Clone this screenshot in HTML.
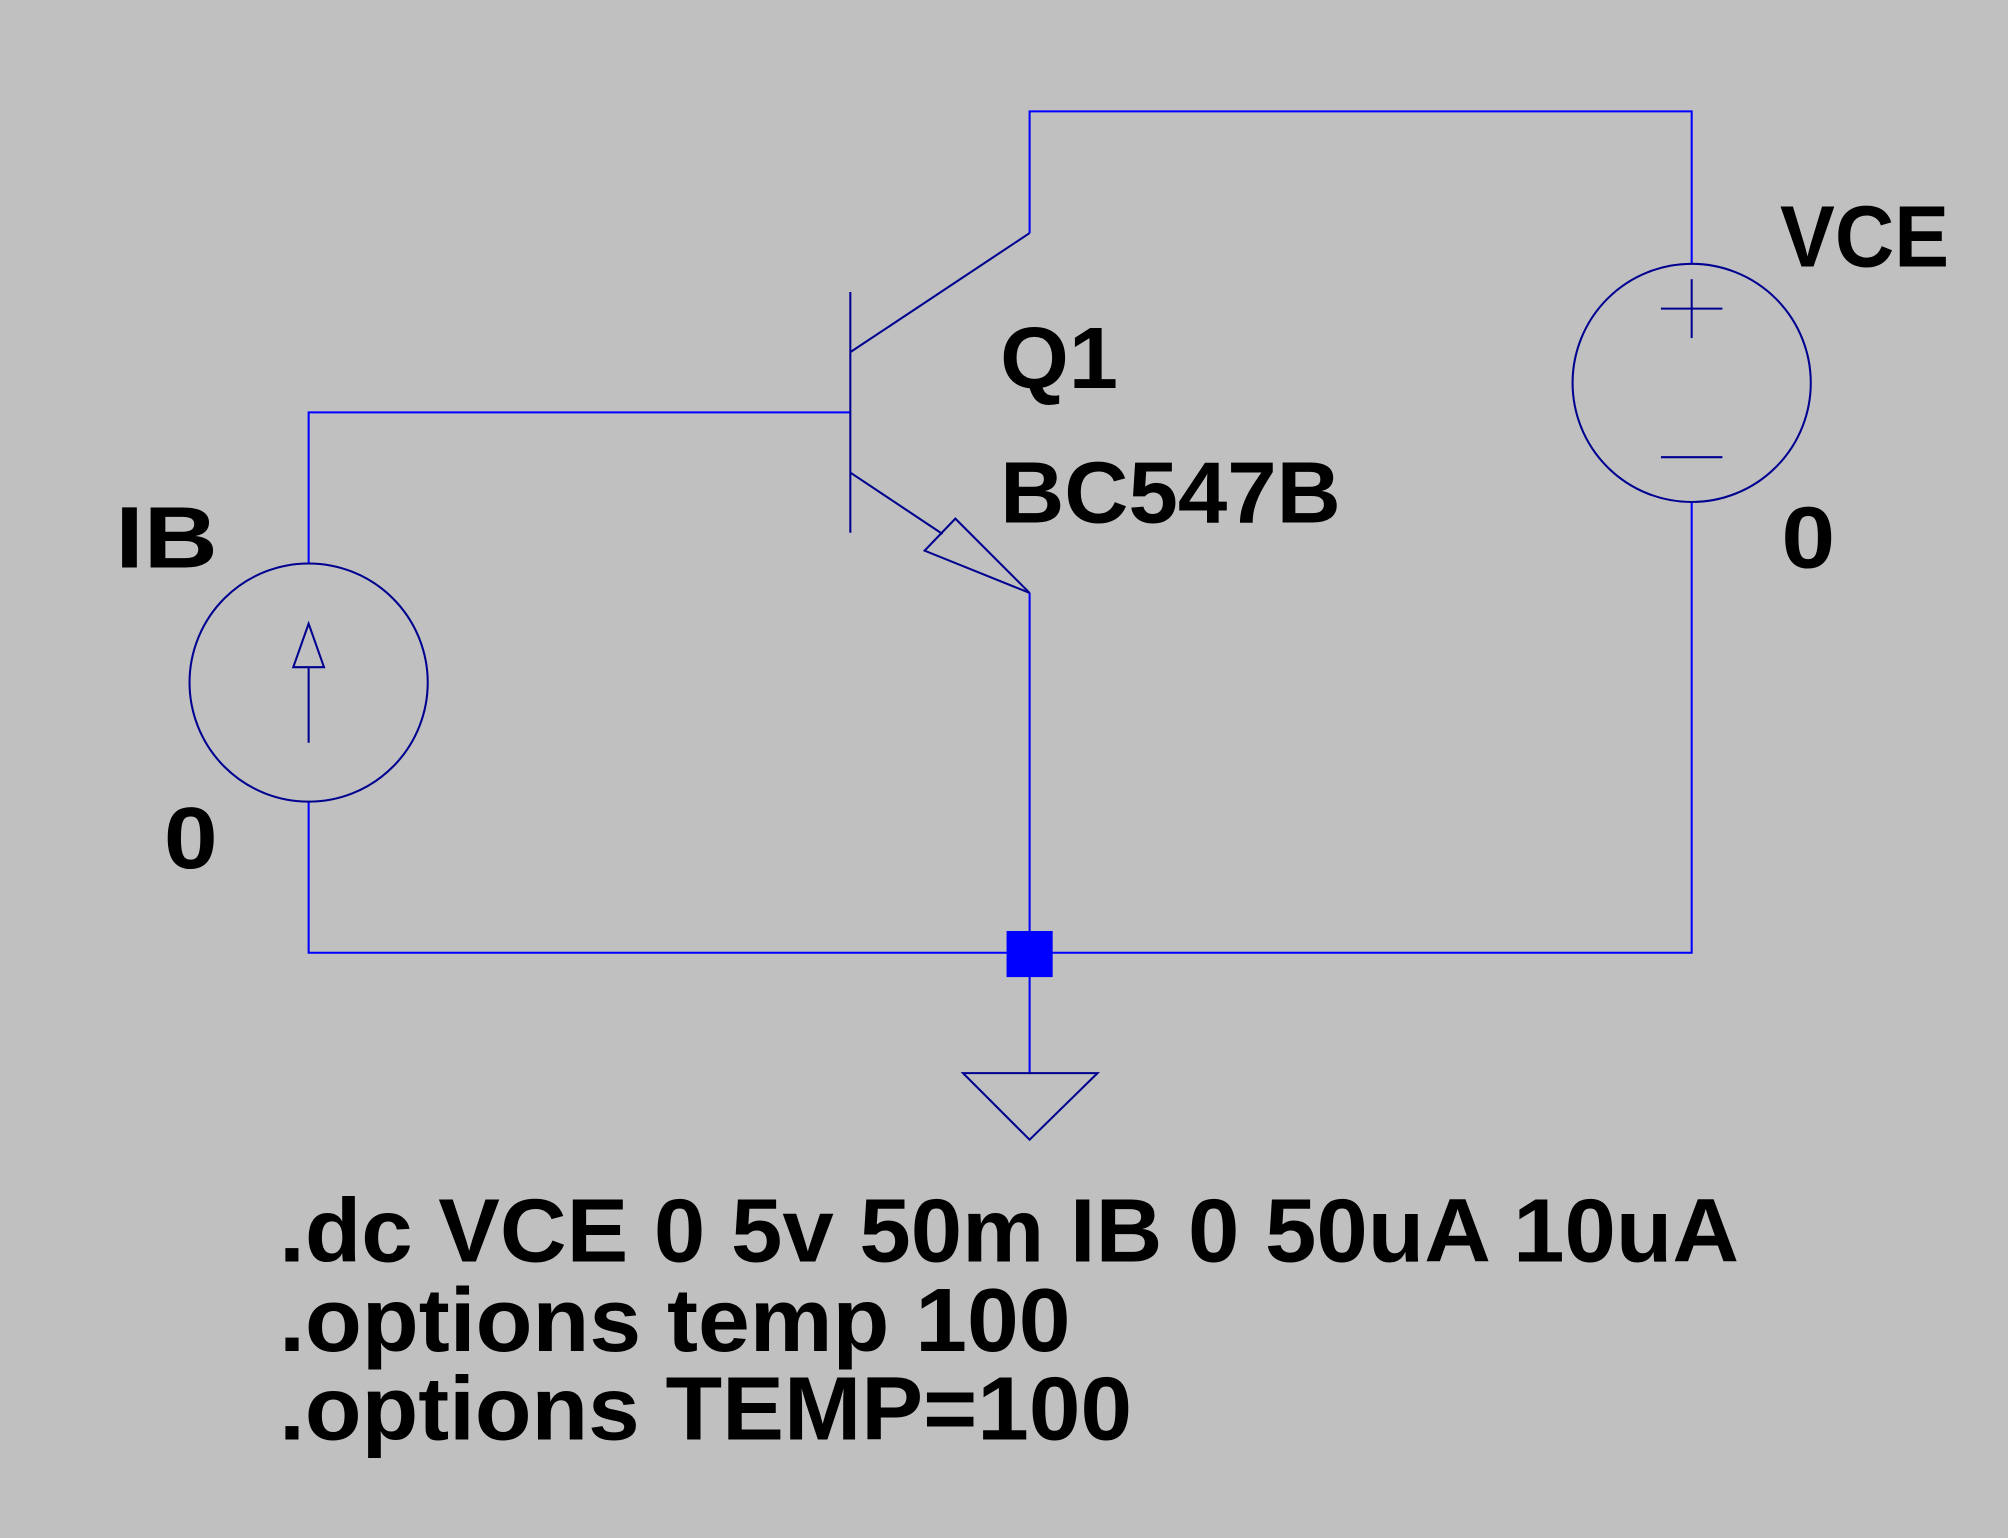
<!DOCTYPE html>
<html><head><style>html,body{margin:0;padding:0;background:#c0c0c0}svg{display:block}</style></head>
<body>
<svg width="2008" height="1538" viewBox="0 0 1568 1201" xmlns="http://www.w3.org/2000/svg">
<rect width="1568" height="1201" fill="#c0c0c0"/>
<g fill="none" stroke="#0000ff" stroke-width="1.6">
<polyline points="804,182 804,87 1321,87 1321,206"/>
<polyline points="1321,392 1321,744 241,744 241,626"/>
<polyline points="241,440 241,322 664,322"/>
<polyline points="804,463 804,838"/>
</g>
<g fill="none" stroke="#000090" stroke-width="1.6">
<circle cx="1321" cy="299" r="93"/>
<line x1="1297" y1="241" x2="1345" y2="241"/>
<line x1="1321" y1="218" x2="1321" y2="264"/>
<line x1="1297" y1="357" x2="1345" y2="357"/>
<circle cx="241" cy="533" r="93"/>
<line x1="241" y1="580" x2="241" y2="521"/>
<polygon points="241,487 229,521 253,521"/>
<line x1="664" y1="228" x2="664" y2="416"/>
<line x1="664" y1="275" x2="804" y2="182"/>
<line x1="664" y1="369" x2="736" y2="417"/>
<polygon points="746,405 722,430 804,463"/>
<polygon points="752,838 857,838 804,890"/>
</g>
<rect x="786" y="727" width="36" height="36" fill="#0000ff"/>
<g font-family="Liberation Sans, sans-serif" font-weight="bold" fill="#000">
<text x="1390" y="208" font-size="68" textLength="132" lengthAdjust="spacingAndGlyphs">VCE</text>
<text x="781" y="303" font-size="68" textLength="92" lengthAdjust="spacingAndGlyphs">Q1</text>
<text x="781" y="408" font-size="68" textLength="266" lengthAdjust="spacingAndGlyphs">BC547B</text>
<text x="90" y="443" font-size="68" textLength="80" lengthAdjust="spacingAndGlyphs">IB</text>
<text x="128" y="678" font-size="68" textLength="42" lengthAdjust="spacingAndGlyphs">0</text>
<text x="1391" y="443" font-size="68" textLength="42" lengthAdjust="spacingAndGlyphs">0</text>
<text x="218" y="985" font-size="70" textLength="1140" lengthAdjust="spacingAndGlyphs">.dc VCE 0 5v 50m IB 0 50uA 10uA</text>
<text x="218" y="1055" font-size="70" textLength="618" lengthAdjust="spacingAndGlyphs">.options temp 100</text>
<text x="218" y="1124" font-size="70" textLength="666" lengthAdjust="spacingAndGlyphs">.options TEMP=100</text>
</g>
</svg>
</body></html>
